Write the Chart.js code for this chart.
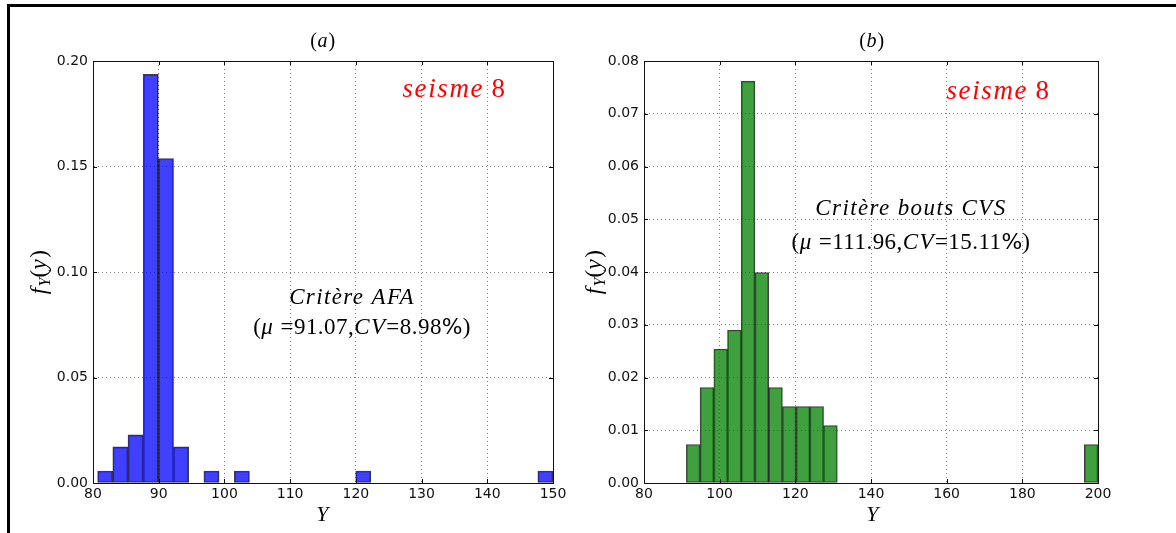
<!DOCTYPE html>
<html>
<head>
<meta charset="utf-8">
<script src="https://cdn.jsdelivr.net/npm/chart.js@4.4.1/dist/chart.umd.min.js"></script>
<style>
html, body { margin:0; padding:0; background:#fff; }
#frame { position:absolute; left:7px; top:4px; width:1169px; height:529px; border-top:3px solid #000; border-left:3px solid #000; box-sizing:border-box; }
canvas { position:absolute; top:0; }
#histA { left:0; }
#histB { left:580px; }
</style>
</head>
<body>
<div id="frame"></div>
<canvas id="histA" width="580" height="533"></canvas>
<canvas id="histB" width="596" height="533"></canvas>
<script>
// histograms of Y for seisme 8 : (a) critere AFA, (b) critere bouts CVS

// (a) bin centres and densities f_Y(y)
const binsA = [81.86, 84.17, 86.48, 88.79, 91.10, 93.41, 95.72, 98.03, 100.34, 102.65,
               104.96, 107.27, 109.58, 111.89, 114.20, 116.51, 118.82, 121.13, 123.44, 125.75,
               128.06, 130.37, 132.68, 134.99, 137.30, 139.61, 141.92, 144.23, 146.54, 148.85];
const densA = [0.0057, 0.0171, 0.0228, 0.1937, 0.1538, 0.0171, 0, 0.0057, 0, 0.0057,
               0, 0, 0, 0, 0, 0, 0, 0.0057, 0, 0,
               0, 0, 0, 0, 0, 0, 0, 0, 0, 0.0057];
const xTicksA = [80, 90, 100, 110, 120, 130, 140, 150];
const yTicksA = [0.00, 0.05, 0.10, 0.15, 0.20];

// (b) bin centres and densities f_Y(y)
const binsB = [93.01, 96.64, 100.27, 103.89, 107.52, 111.15, 114.77, 118.40, 122.03, 125.65,
               129.28, 132.91, 136.53, 140.16, 143.79, 147.41, 151.04, 154.67, 158.29, 161.92,
               165.55, 169.17, 172.80, 176.43, 180.05, 183.68, 187.31, 190.93, 194.56, 198.19];
const densB = [0.0073, 0.0181, 0.0254, 0.0290, 0.0762, 0.0399, 0.0181, 0.0145, 0.0145, 0.0145,
               0.0109, 0, 0, 0, 0, 0, 0, 0, 0, 0,
               0, 0, 0, 0, 0, 0, 0, 0, 0, 0.0073];
const xTicksB = [80, 100, 120, 140, 160, 180, 200];
const yTicksB = [0.00, 0.01, 0.02, 0.03, 0.04, 0.05, 0.06, 0.07, 0.08];

const SERIF = '"Liberation Serif", "DejaVu Serif", serif';
const SANS = '"DejaVu Sans", sans-serif';

// little mathtext-like writer: segments of [text, style]
function segFont(st, size) {
    if (st === 'i') return { font: 'italic ' + size + 'px ' + SERIF, dy: 0, ls: size * 0.06 };
    if (st === 'sub') return { font: 'italic ' + Math.round(size * 0.7) + 'px ' + SERIF, dy: size * 0.25, ls: 0 };
    if (st === 's') return { font: size * 0.95 + 'px ' + SANS, dy: 0, ls: 0 };
    return { font: size + 'px ' + SERIF, dy: 0, ls: size * 0.02 };
}

function drawRich(ctx, segs, cx, cy, size, color) {
    let total = 0;
    const parts = segs.map(([t, st]) => {
        const f = segFont(st, size);
        ctx.font = f.font;
        ctx.letterSpacing = f.ls + 'px';
        const w = ctx.measureText(t).width;
        total += w;
        return { t, f, w };
    });
    let x = cx - total / 2;
    ctx.fillStyle = color || '#000';
    ctx.textAlign = 'left';
    ctx.textBaseline = 'middle';
    parts.forEach(p => {
        ctx.font = p.f.font;
        ctx.letterSpacing = p.f.ls + 'px';
        ctx.fillText(p.t, x, cy + p.f.dy);
        x += p.w;
    });
    ctx.letterSpacing = '0px';
}

const mathTextPlugin = {
    id: 'mathText',
    afterDraw(chart, args, opts) {
        const ctx = chart.ctx;
        const a = chart.chartArea;
        const xs = chart.scales.x, ys = chart.scales.y;
        ctx.save();
        // frame top + right
        ctx.strokeStyle = '#111';
        ctx.lineWidth = 1;
        ctx.beginPath();
        ctx.moveTo(Math.round(a.left), Math.round(a.top) + 0.5);
        ctx.lineTo(Math.round(a.right) + 0.5, Math.round(a.top) + 0.5);
        ctx.lineTo(Math.round(a.right) + 0.5, Math.round(a.bottom));
        ctx.stroke();
        // inward tick marks on all four sides
        ctx.beginPath();
        xs.ticks.forEach(t => {
            const px = Math.round(xs.getPixelForValue(t.value)) + 0.5;
            ctx.moveTo(px, a.bottom); ctx.lineTo(px, a.bottom - 4);
            ctx.moveTo(px, a.top); ctx.lineTo(px, a.top + 4);
        });
        ys.ticks.forEach(t => {
            const py = Math.round(ys.getPixelForValue(t.value)) + 0.5;
            ctx.moveTo(a.left, py); ctx.lineTo(a.left + 4, py);
            ctx.moveTo(a.right, py); ctx.lineTo(a.right - 4, py);
        });
        ctx.stroke();

        (opts.items || []).forEach(it => {
            if (it.rotate) {
                ctx.save();
                ctx.translate(it.x, it.y);
                ctx.rotate(-Math.PI / 2);
                drawRich(ctx, it.segs, 0, 0, it.size, it.color);
                ctx.restore();
            } else {
                drawRich(ctx, it.segs, it.x, it.y, it.size, it.color);
            }
        });
        ctx.restore();
    }
};

function makeHist(id, bins, dens, xTicks, yTicks, fill, yWidth, padRight, items) {
    return new Chart(document.getElementById(id), {
        type: 'bar',
        data: {
            datasets: [{
                data: bins.map((b, i) => ({ x: b, y: dens[i] })),
                backgroundColor: fill,
                borderColor: 'rgba(0,0,0,0.75)',
                borderWidth: 1,
                borderSkipped: false,
                barPercentage: 1,
                categoryPercentage: 1
            }]
        },
        options: {
            responsive: false,
            animation: false,
            layout: { padding: { top: 61, right: padRight, left: 0, bottom: 0 } },
            plugins: {
                legend: { display: false },
                tooltip: { enabled: false },
                mathText: { items: items }
            },
            scales: {
                x: {
                    type: 'linear',
                    offset: false,
                    min: xTicks[0],
                    max: xTicks[xTicks.length - 1],
                    z: 1,
                    afterBuildTicks: s => { s.ticks = xTicks.map(v => ({ value: v })); },
                    afterFit: s => { s.height = 50; },
                    ticks: { color: '#111', font: { family: SANS, size: 14 }, padding: 3, maxRotation: 0,
                             callback: v => String(v) },
                    grid: { color: 'rgba(0,0,0,0.5)', lineWidth: 1, drawTicks: false, offset: false },
                    border: { display: true, color: '#111', width: 1, dash: [1, 3] }
                },
                y: {
                    min: yTicks[0],
                    max: yTicks[yTicks.length - 1],
                    z: 1,
                    afterBuildTicks: s => { s.ticks = yTicks.map(v => ({ value: v })); },
                    afterFit: s => { s.width = yWidth; },
                    ticks: { color: '#111', font: { family: SANS, size: 14 }, padding: 5,
                             callback: v => v.toFixed(2) },
                    grid: { color: 'rgba(0,0,0,0.5)', lineWidth: 1, drawTicks: false },
                    border: { display: true, color: '#111', width: 1, dash: [1, 3] }
                }
            }
        },
        plugins: [mathTextPlugin]
    });
}

const fyLabel = [['f', 'i'], ['Y', 'sub'], ['(', 'r'], ['y', 'i'], [')', 'r']];

makeHist('histA', binsA, densA, xTicksA, yTicksA, 'rgba(0,0,255,0.75)', 93, 27, [
    { segs: [['(', 'r'], ['a', 'i'], [')', 'r']], x: 323, y: 42, size: 20 },
    { segs: [['seisme', 'i'], [' 8', 'r']], x: 454, y: 90, size: 27, color: '#ff0000' },
    { segs: [['Critère AFA', 'i']], x: 352, y: 298, size: 23 },
    { segs: [['(', 'r'], ['μ', 'i'], [' =91.07,', 'r'], ['CV', 'i'], ['=8.98', 'r'], ['%', 's'], [')', 'r']],
      x: 362, y: 328, size: 23 },
    { segs: fyLabel, x: 40, y: 272, size: 23, rotate: true },
    { segs: [['Y', 'i']], x: 323, y: 515, size: 22 }
]);

makeHist('histB', binsB, densB, xTicksB, yTicksB, 'rgba(0,128,0,0.75)', 64, 78, [
    { segs: [['(', 'r'], ['b', 'i'], [')', 'r']], x: 292, y: 42, size: 20 },
    { segs: [['seisme', 'i'], [' 8', 'r']], x: 418, y: 92, size: 27, color: '#ff0000' },
    { segs: [['Critère bouts CVS', 'i']], x: 331, y: 209, size: 23 },
    { segs: [['(', 'r'], ['μ', 'i'], [' =111.96,', 'r'], ['CV', 'i'], ['=15.11', 'r'], ['%', 's'], [')', 'r']],
      x: 331, y: 243, size: 23 },
    { segs: fyLabel, x: 15, y: 272, size: 23, rotate: true },
    { segs: [['Y', 'i']], x: 293, y: 515, size: 22 }
]);
</script>
</body>
</html>
